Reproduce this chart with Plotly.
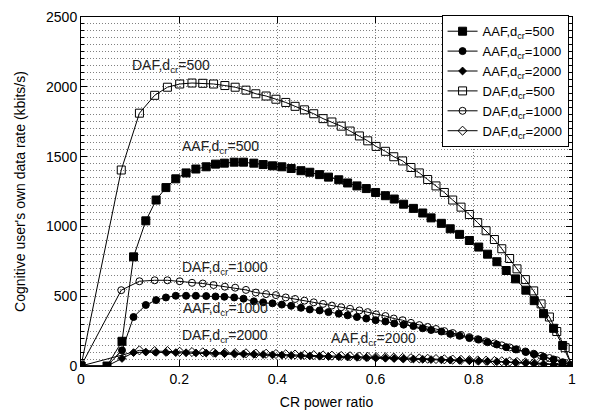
import plotly.graph_objects as go

# ---- data ----
x_aaf = [0, 0.053, 0.0835, 0.107, 0.132, 0.153, 0.173, 0.193, 0.214, 0.234,
         0.255, 0.274, 0.292, 0.312, 0.331, 0.352, 0.371, 0.390, 0.409, 0.428,
         0.448, 0.466, 0.486, 0.504, 0.525, 0.543, 0.562, 0.581, 0.600, 0.620,
         0.638, 0.657, 0.677, 0.696, 0.713, 0.734, 0.752, 0.771, 0.791, 0.810,
         0.828, 0.847, 0.866, 0.885, 0.906, 0.923, 0.942, 0.9625, 0.981, 1.0]
x_daf = [0, 0.082, 0.119, 0.150, 0.176, 0.201, 0.226, 0.248, 0.270, 0.293,
         0.314, 0.336, 0.356, 0.377, 0.397, 0.417, 0.436, 0.455, 0.474, 0.493,
         0.511, 0.530, 0.548, 0.567, 0.584, 0.601, 0.620, 0.637, 0.655, 0.672,
         0.689, 0.706, 0.723, 0.740, 0.757, 0.774, 0.791, 0.808, 0.825, 0.842,
         0.857, 0.873, 0.888, 0.905, 0.922, 0.937, 0.954, 0.969, 0.986, 1.0]

aaf_500 = [0, 0, 177, 782, 1040, 1189, 1278, 1341, 1383, 1411,
           1427, 1446, 1453, 1460, 1460, 1453, 1443, 1434, 1427, 1415,
           1399, 1388, 1371, 1353, 1334, 1311, 1290, 1271, 1243, 1220,
           1196, 1159, 1129, 1096, 1061, 1022, 983, 943, 899, 852,
           801, 747, 684, 624, 543, 468, 375, 270, 147, 0]
aaf_1000 = [0, 0, 112, 351, 437, 472, 491, 503, 503, 503,
            501, 498, 496, 491, 482, 463, 456, 449, 440, 431,
            417, 405, 398, 386, 375, 363, 351, 340, 328, 319,
            305, 296, 286, 270, 258, 247, 230, 216, 200, 189,
            170, 154, 135, 119, 100, 84, 66, 47, 27, 0]
aaf_2000 = [0, 0, 54, 96, 100, 98, 97, 96, 95, 94,
            93, 91, 89, 88, 86, 84, 82, 80, 78, 76,
            74, 72, 70, 68, 66, 64, 62, 60, 58, 56,
            54, 52, 50, 48, 46, 44, 42, 40, 38, 36,
            34, 31, 28, 25, 22, 18, 14, 10, 6, 0]
daf_500 = [0, 1404, 1811, 1939, 1997, 2020, 2027, 2025, 2020, 2009,
           1997, 1976, 1950, 1934, 1911, 1888, 1860, 1835, 1807, 1772,
           1748, 1718, 1683, 1648, 1613, 1573, 1538, 1499, 1469, 1422,
           1383, 1336, 1290, 1243, 1189, 1138, 1085, 1027, 969, 906,
           840, 770, 696, 619, 538, 445, 351, 247, 131, 0]
daf_1000 = [0, 543, 607, 614, 614, 607, 596, 591, 580, 568,
            561, 545, 526, 515, 508, 491, 480, 468, 456, 445,
            433, 421, 410, 398, 386, 370, 358, 340, 328, 309,
            293, 280, 265, 250, 236, 222, 207, 192, 177, 162,
            148, 133, 119, 104, 88, 73, 57, 41, 22, 0]
daf_2000 = [0, 75, 112, 107, 107, 102, 100, 98, 96, 95,
            93, 91, 89, 88, 86, 84, 82, 80, 78, 76,
            74, 72, 70, 68, 66, 64, 62, 60, 58, 56,
            54, 52, 50, 48, 46, 44, 42, 40, 38, 36,
            34, 32, 29, 26, 23, 20, 16, 12, 7, 0]

series = [
    ("AAF,d<sub>cr</sub>=500", x_aaf, aaf_500, "square", 8),
    ("AAF,d<sub>cr</sub>=1000", x_aaf, aaf_1000, "circle", 7),
    ("AAF,d<sub>cr</sub>=2000", x_aaf, aaf_2000, "diamond", 6),
    ("DAF,d<sub>cr</sub>=500", x_daf, daf_500, "square-open", 8),
    ("DAF,d<sub>cr</sub>=1000", x_daf, daf_1000, "circle-open", 7),
    ("DAF,d<sub>cr</sub>=2000", x_daf, daf_2000, "diamond-open", 7),
]

labels = [
    ("DAF,d<sub>cr</sub>=500", 0.184, 2150),
    ("AAF,d<sub>cr</sub>=500", 0.284, 1570),
    ("DAF,d<sub>cr</sub>=1000", 0.294, 700),
    ("AAF,d<sub>cr</sub>=1000", 0.294, 410),
    ("DAF,d<sub>cr</sub>=2000", 0.294, 216),
    ("AAF,d<sub>cr</sub>=2000", 0.595, 196),
]

FONT = "Liberation Sans, Arial, sans-serif"
GRID = "#808080"
DOTS = "1px,2px"

fig = go.Figure()
for name, xs, ys, sym, sz in series:
    fig.add_trace(go.Scatter(
        x=xs, y=ys, name=name, mode="lines+markers",
        line=dict(color="black", width=1),
        marker=dict(symbol=sym, size=sz, color="black",
                    line=dict(color="black", width=1)),
    ))

for txt, lx, ly in labels:
    fig.add_annotation(x=lx, y=ly, text=txt, showarrow=False,
                       font=dict(family=FONT, size=14, color="#222"))

fig.update_layout(
    width=591, height=417,
    margin=dict(l=81, r=19, t=9, b=50),
    paper_bgcolor="white", plot_bgcolor="white",
    font=dict(family=FONT, size=14, color="black"),
    legend=dict(x=0.993, y=1.005, xanchor="right", yanchor="top",
                bgcolor="white", bordercolor="black", borderwidth=1,
                font=dict(family=FONT, size=13, color="black"),
                tracegroupgap=0, itemwidth=30),
)
fig.update_xaxes(
    range=[0, 1], dtick=0.2, tick0=0,
    title=dict(text="CR power ratio", font=dict(size=14), standoff=11),
    showline=True, linecolor="black", linewidth=1, mirror="ticks",
    ticks="inside", ticklen=6, tickcolor="black",
    showgrid=True, gridcolor=GRID, griddash=DOTS, gridwidth=1,
    zeroline=False,
)
fig.update_yaxes(
    range=[0, 2500], dtick=500, tick0=0,
    title=dict(text="Cognitive user's own data rate (kbits/s)",
               font=dict(size=14), standoff=17),
    showline=True, linecolor="black", linewidth=1, mirror="ticks",
    ticks="inside", ticklen=6, tickcolor="black",
    showgrid=True, gridcolor=GRID, griddash=DOTS, gridwidth=1,
    minor=dict(dtick=50, showgrid=True, gridcolor=GRID, griddash=DOTS,
               gridwidth=1, ticks="inside", ticklen=3, tickcolor="black"),
    zeroline=False,
)

fig.write_html("out.html", config={"displayModeBar": False},
               post_script="document.body.style.margin='0';")
